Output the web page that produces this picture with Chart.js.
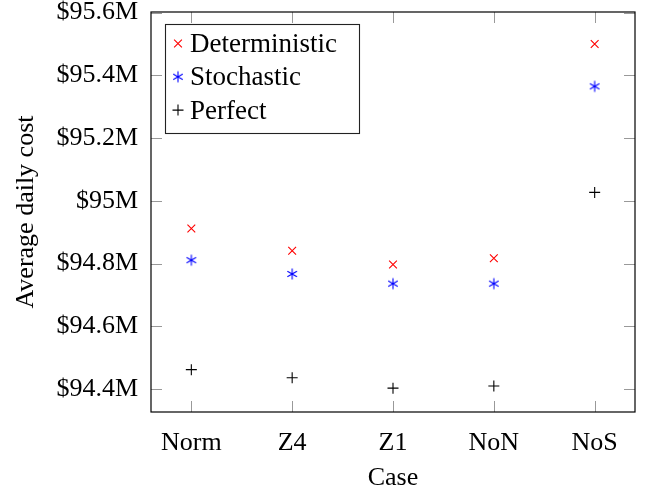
<!DOCTYPE html>
<html>
<head>
<meta charset="utf-8">
<script src="https://cdn.jsdelivr.net/npm/chart.js@4"></script>
<style>
  body { margin: 0; background: #fff; }
</style>
</head>
<body>
<canvas id="chart" width="648" height="486"></canvas>
<script>
const categories = ['Norm', 'Z4', 'Z1', 'NoN', 'NoS'];
const deterministic = [94.912, 94.841, 94.797, 94.817, 95.500];
const stochastic = [94.811, 94.767, 94.736, 94.736, 95.365];
const perfect = [94.462, 94.436, 94.403, 94.410, 95.027];
const yTicks = [94.4, 94.6, 94.8, 95.0, 95.2, 95.4, 95.6];

// pgfplots style asterisk: 3 strokes, 6 arms
function asterisk(color, r) {
  const c = document.createElement('canvas');
  const s = 14;
  c.width = s; c.height = s;
  const g = c.getContext('2d');
  g.strokeStyle = color;
  g.lineWidth = 1.1;
  g.translate(s / 2, s / 2);
  g.beginPath();
  for (let k = 0; k < 3; k++) {
    const a = Math.PI / 2 + k * Math.PI / 3;
    g.moveTo(r * Math.cos(a), r * Math.sin(a));
    g.lineTo(-r * Math.cos(a), -r * Math.sin(a));
  }
  g.stroke();
  return c;
}

const toPoints = vals => vals.map((v, i) => ({x: i, y: v}));

Chart.defaults.font.family = "'Liberation Serif', serif";
Chart.defaults.font.size = 26;
Chart.defaults.color = '#000';

// axis box, inside tick marks on all four sides, boxed legend
const frame = {
  id: 'frame',
  afterDatasetsDraw(chart) {
    const {ctx, chartArea: a, scales: {x, y}} = chart;
    const len = 11;
    ctx.save();
    ctx.strokeStyle = '#999';
    ctx.lineWidth = 1;
    ctx.beginPath();
    yTicks.forEach(v => {
      const py = Math.round(y.getPixelForValue(v)) + 0.5;
      ctx.moveTo(a.left, py); ctx.lineTo(a.left + len, py);
      ctx.moveTo(a.right, py); ctx.lineTo(a.right - len, py);
    });
    categories.forEach((c, i) => {
      const px = Math.round(x.getPixelForValue(i)) + 0.5;
      ctx.moveTo(px, a.bottom); ctx.lineTo(px, a.bottom - len);
      ctx.moveTo(px, a.top); ctx.lineTo(px, a.top + len);
    });
    ctx.stroke();
    ctx.strokeStyle = '#000';
    ctx.lineWidth = 1.2;
    ctx.strokeRect(a.left, a.top, a.right - a.left, a.bottom - a.top);

    // legend
    const lx = a.left + 14, ly = a.top + 12, lw = 194, lh = 109;
    ctx.fillStyle = '#fff';
    ctx.fillRect(lx, ly, lw, lh);
    ctx.strokeStyle = '#222';
    ctx.lineWidth = 1.1;
    ctx.strokeRect(lx + 0.5, ly + 0.5, lw, lh);
    ctx.font = "27px 'Liberation Serif', serif";
    ctx.textBaseline = 'alphabetic';
    ctx.textAlign = 'left';
    chart.data.datasets.forEach((ds, i) => {
      const base = ly + 28 + i * 33.3;
      const my = base - 8.5;
      const mx = lx + 13;
      if (ds.pointStyle instanceof HTMLCanvasElement) {
        ctx.drawImage(ds.pointStyle, mx - 7, my - 7);
      } else {
        ctx.strokeStyle = ds.borderColor;
        ctx.lineWidth = ds.pointBorderWidth;
        Chart.helpers.drawPoint(ctx, {pointStyle: ds.pointStyle, radius: ds.pointRadius, borderWidth: ds.pointBorderWidth, rotation: 0}, mx, my);
      }
      ctx.fillStyle = '#000';
      ctx.fillText(ds.label, lx + 25, base);
    });
    ctx.restore();
  }
};

new Chart(document.getElementById('chart'), {
  type: 'scatter',
  data: {
    datasets: [{
      label: 'Deterministic',
      data: toPoints(deterministic),
      pointStyle: 'crossRot',
      pointRadius: 5.5,
      pointBorderWidth: 1.1,
      borderColor: '#ff0000',
      backgroundColor: '#ff0000'
    }, {
      label: 'Stochastic',
      data: toPoints(stochastic),
      pointStyle: asterisk('#0000ff', 5.5),
      pointRadius: 5.5,
      borderColor: '#0000ff',
      backgroundColor: '#0000ff'
    }, {
      label: 'Perfect',
      data: toPoints(perfect),
      pointStyle: 'cross',
      pointRadius: 5.5,
      pointBorderWidth: 1.1,
      borderColor: '#000',
      backgroundColor: '#000'
    }]
  },
  options: {
    responsive: false,
    animation: false,
    layout: { padding: { top: 12, right: 13, left: 0, bottom: 0 } },
    plugins: { legend: { display: false }, tooltip: { enabled: false } },
    scales: {
      x: {
        type: 'linear',
        min: -0.4,
        max: 4.4,
        grid: { display: false, drawTicks: false },
        border: { display: false },
        afterBuildTicks: s => { s.ticks = categories.map((c, i) => ({value: i})); },
        afterFit: s => { s.height = 74; s.paddingLeft = 0; s.paddingRight = 0; },
        ticks: {
          autoSkip: false,
          maxRotation: 0,
          padding: 16,
          callback: v => categories[v]
        },
        title: {
          display: true,
          text: 'Case',
          font: { size: 26, lineHeight: 1 },
          padding: { top: 0, bottom: -5 }
        }
      },
      y: {
        min: 94.327,
        max: 95.602,
        grid: { display: false, drawTicks: false },
        border: { display: false },
        afterBuildTicks: s => { s.ticks = yTicks.map(v => ({value: v})); },
        afterFit: s => { s.width = 151; s.paddingTop = 0; s.paddingBottom = 0; },
        ticks: {
          padding: 13,
          callback: v => '$' + (+v.toFixed(1)) + 'M'
        },
        title: {
          display: true,
          text: 'Average daily cost',
          font: { size: 26, lineHeight: 1.2 },
          padding: { top: 11, bottom: 0 }
        }
      }
    }
  },
  plugins: [frame]
});
</script>
</body>
</html>
